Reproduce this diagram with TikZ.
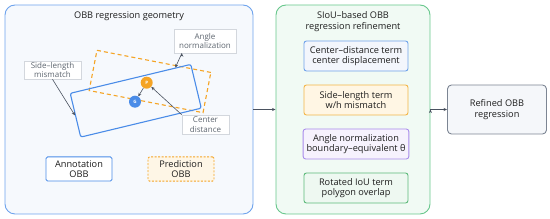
\documentclass[tikz,border=0pt]{standalone}
\usepackage{fontspec}
\setmainfont{Open Sans}
\usetikzlibrary{positioning, arrows.meta, calc}

\definecolor{geoblue}{HTML}{4A8CE8}
\definecolor{geofill}{HTML}{F6F9FD}
\definecolor{predorange}{HTML}{F5A425}
\definecolor{predfill}{HTML}{FEF6E6}
\definecolor{siougreen}{HTML}{68C78C}
\definecolor{sioufill}{HTML}{F1FAF4}
\definecolor{termblue}{HTML}{6FA2EA}
\definecolor{termbluefill}{HTML}{F3F6FC}
\definecolor{termorange}{HTML}{F3B548}
\definecolor{termorangefill}{HTML}{FFF6E4}
\definecolor{termpurple}{HTML}{A88BEB}
\definecolor{termpurplefill}{HTML}{F6F2FD}
\definecolor{termgreen}{HTML}{5DBA7A}
\definecolor{termgreenfill}{HTML}{EEF8F1}
\definecolor{outgray}{HTML}{7C8593}
\definecolor{outfill}{HTML}{F5F7FA}
\definecolor{tagline}{HTML}{D3D7DD}
\definecolor{tagtext}{HTML}{5E6670}
\definecolor{arrowgray}{HTML}{4A5260}
\definecolor{textdark}{HTML}{1E1E1E}

\begin{document}
\begin{tikzpicture}[x=1pt,y=1pt,node distance=44pt,on grid,
    font=\fontsize{9.2}{10.6}\selectfont, text=textdark,
    panel/.style={draw, rounded corners=10pt, line width=0.9pt},
    term/.style={draw, rounded corners=2.5pt, minimum width=104pt, minimum height=30pt, align=center, line width=0.9pt},
    legendbox/.style={draw, rounded corners=1.5pt, minimum width=66pt, minimum height=24pt, align=center, line width=0.9pt},
    tag/.style={draw=tagline, fill=white, align=center, inner sep=1pt, line width=0.6pt, text=tagtext,
        font=\fontsize{8}{9.8}\selectfont},
    obb/.style={minimum width=#1, inner sep=0pt, line width=1.1pt},
    dot/.style={circle, inner sep=0pt, minimum size=12pt, text=white, font=\fontsize{4.5}{5}\selectfont\bfseries},
    arr/.style={-{Stealth[length=3.5pt,width=3pt]}, draw=arrowgray, line width=0.6pt}]

    \useasboundingbox (0,0) rectangle (550,219);

    % left panel
    \node[panel, draw=geoblue!80, fill=geofill, minimum width=248pt, minimum height=209pt] (geo) at (129,109.5) {};
    \node (geotitle) at (129,203) {OBB regression geometry};

    \node[obb=116pt, draw=predorange, dash pattern=on 4pt off 3pt, minimum height=41pt, rotate=-11] (pr) at (150,137.5) {};
    \node[obb=124pt, draw=geoblue, rounded corners=2pt, minimum height=45pt, rotate=13.5] (gt) at (135.75,118.25) {};

    \node[dot, fill=predorange] (p) at (146.7,136.3) {P};
    \node[dot, fill=geoblue] (g) at (135,117.3) {G};

    \node[tag, minimum width=62pt, minimum height=24pt] (an) at (205,178) {Angle\\normalization};
    \node[tag, minimum width=57pt, minimum height=18pt] (sl) at (52.5,149) {Side--length\\mismatch};
    \node[tag, minimum width=47pt, minimum height=19pt] (cd) at (205.5,94.5) {Center\\distance};

    \node[legendbox, draw=geoblue, fill=white] (annot) at (79,50) {Annotation\\OBB};
    \node[legendbox, draw=predorange, fill=predfill, dash pattern=on 2pt off 1.5pt] (pred) at (181,50) {Prediction\\OBB};

    \path[arr]
    (p) edge (g)
    (cd.north west) edge (p)
    (sl.south) edge (gt.west)
    ($(an.south west)!0.13!(an.south east)$) edge ($(gt.north west)!0.87!(gt.north east)$);

    % SIoU panel
    \node[panel, draw=siougreen, fill=sioufill, minimum width=154pt, minimum height=209pt] (siou) at (353,109.5) {};
    \node[align=center] (sioutitle) at (353,197.5) {SIoU--based OBB\\regression refinement};

    \node[term, draw=termblue, fill=termbluefill] (cterm) at (356,163) {Center--distance term\\center displacement};
    \node[term, draw=termorange, fill=termorangefill] (sterm) [below=of cterm] {Side--length term\\w/h mismatch};
    \node[term, draw=termpurple, fill=termpurplefill] (aterm) [below=of sterm] {Angle normalization\\boundary--equivalent θ};
    \node[term, draw=termgreen, fill=termgreenfill] (iterm) [below=of aterm] {Rotated IoU term\\polygon overlap};

    % output
    \node[draw=outgray, fill=outfill, rounded corners=4pt, line width=0.9pt, minimum width=99pt, minimum height=49pt, align=center] (refined) at (497,109.5) {Refined OBB\\regression};

    \path[arr]
    (geo.east) edge (siou.west)
    (siou.east) edge (refined.west);
\end{tikzpicture}
\end{document}
